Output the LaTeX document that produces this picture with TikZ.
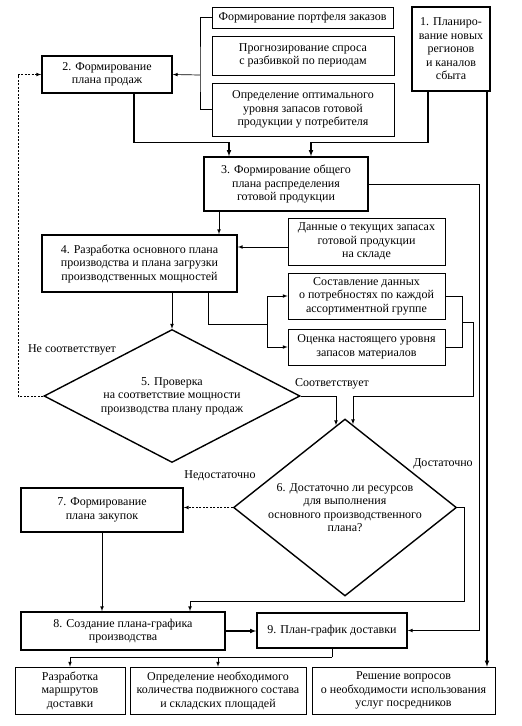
\documentclass[tikz,border=0pt]{standalone}
\usepackage{fontspec}
\setmainfont{Liberation Serif}
\usetikzlibrary{shapes.geometric}
\usetikzlibrary{arrows.meta}
\tikzset{
    cellthin/.style = {rectangle, draw=black, line width=0.7pt, align=center, inner sep=1pt, fill=white},
    cellbold/.style = {rectangle, draw=black, line width=1.6pt, align=center, inner sep=1pt, fill=white},
    check/.style = {diamond, draw=black, line width=1.4pt, align=center, inner sep=0pt},
    edgel/.style = {line width=0.7pt},
    edgen/.style = {-latex, line width=0.7pt},
    edgeb/.style = {-latex, line width=1.1pt},
    edged/.style = {-latex, line width=0.7pt, dash pattern=on 2pt off 1.5pt}, % back
}

\begin{document}
\begin{tikzpicture}[x=1pt,y=-1pt,font=\fontsize{12}{13.5}\selectfont]
\useasboundingbox (0,0) rectangle (522,726);
%
\node[cellthin, minimum width=181, minimum height=21] at (302.5,17.5) (port) {Формирование портфеля заказов};
\node[cellthin, minimum width=182, minimum height=39] at (303,55.5) (prog) {Прогнозирование спроса\\с разбивкой по периодам};
\node[cellthin, minimum width=182, minimum height=53] at (303,109.5) (opt) {Определение оптимального\\уровня запасов готовой\\продукции у потребителя};
\node[cellbold, minimum width=78, minimum height=84] at (451,49) (plan1) {1. Планиро-\\вание новых\\регионов\\и каналов\\сбыта};
\node[cellbold, minimum width=130, minimum height=37] at (107,74.5) (plan2) {2. Формирование\\плана продаж};
\node[cellbold, minimum width=164, minimum height=54] at (286,184) (plan3) {3. Формирование общего\\плана распределения\\готовой продукции};
\node[cellbold, minimum width=195, minimum height=57] at (139.5,263.5) (plan4) {4. Разработка основного плана\\производства и плана загрузки\\производственных мощностей};
\node[cellthin, minimum width=157, minimum height=47] at (366.5,241.5) (stock) {Данные о текущих запасах\\готовой продукции\\на складе};
\node[cellthin, minimum width=157, minimum height=46] at (366.5,296) (need) {Составление данных\\о потребностях по каждой\\ассортиментной группе};
\node[cellthin, minimum width=157, minimum height=36] at (366.5,347) (mat) {Оценка настоящего уровня\\запасов материалов};
\node[check, minimum width=256, minimum height=133, aspect=1.9] at (172,396) (chk5) {5. Проверка\\на соответствие мощности\\производства плану продаж};
\node[check, minimum width=223, minimum height=177, aspect=1.26] at (345,507.5) (chk6) {6. Достаточно ли ресурсов\\для выполнения\\основного производственного\\плана?};
\node[cellbold, minimum width=162, minimum height=44] at (102,510) (plan7) {7. Формирование\\плана закупок};
\node[cellbold, minimum width=204, minimum height=38] at (123,631) (plan8) {8. Создание плана-графика\\производства};
\node[cellbold, minimum width=150, minimum height=35] at (332,630.5) (plan9) {9. План-график доставки};
\node[cellthin, minimum width=110, minimum height=47] at (70,690.5) (route) {Разработка\\маршрутов\\доставки};
\node[cellthin, minimum width=176, minimum height=47] at (218,690.5) (fleet) {Определение необходимого\\количества подвижного состава\\и складских площадей};
\node[cellthin, minimum width=183, minimum height=47] at (403.5,690.5) (agent) {Решение вопросов\\о необходимости использования\\услуг посредников};
%
\node at (72,350) (lno5) {Не соответствует};
\node at (332,384) (lyes5) {Соответствует};
\node at (220,476) (lno6) {Недостаточно};
\node at (443,464) (lyes6) {Достаточно};
%
\coordinate (brk2) at (200,75);
\coordinate (back5) at (18,396);
\coordinate (p1r) at ([xshift=36]plan1.south);
\coordinate (p3s) at ([xshift=-67]plan3.south);
\coordinate (stk) at ([yshift=-5.5]stock.west);
\coordinate (brk4) at (267,324);
\coordinate (brk6) at (462,322);
\coordinate (brk9) at (332,657);
%
\draw[edgel] (port.west) -| (brk2) |- (opt.west);
\draw[edgen] (brk2) -- (plan2.east);
\draw[edged] (chk5.west) -- (back5) |- (plan2.west);
\draw[edgeb] ([xshift=27]plan2.south) |- ++(95,49) -- ([xshift=-57]plan3.north);
\draw[edgeb] ([xshift=-23]plan1.south) |- ++(-117,51) -- ([xshift=25]plan3.north);
\draw[edgeb] (p1r) -- (p1r |- agent.north);
\draw[edgen] (plan3.east) -- ++(111,0) |- (plan9.east);
\draw[edgen] (p3s) -- (p3s |- plan4.north);
\draw[edgen] (stk) -- (stk -| plan4.east);
\draw[edgen] (chk5.north |- plan4.south) -- (chk5.north);
\draw[edgel] ([xshift=68.5]plan4.south) |- (brk4);
\draw[edgen] (brk4) |- (need.west);
\draw[edgen] (brk4) |- (mat.west);
\draw[edgel] (need.east) -| (brk6);
\draw[edgel] (mat.east) -| (brk6);
\draw[edgen] (brk6) -- ++(11,0) |- ++(-120,74) -- ([xshift=8,yshift=-6]chk6.north);
\draw[edgen] (chk5.east) -| ([xshift=-9,yshift=-7]chk6.north);
\draw[edged] (chk6.west) -- (chk6.west -| plan7.east);
\draw[edgen] (plan7.south) -- (plan7.south |- plan8.north);
\draw[edgen] (chk6.east) -- ++(7,0) |- ([xshift=67,yshift=10]plan8.north) -- ([xshift=67]plan8.north);
\draw[edgeb] (plan8.east) -- (plan8.east -| plan9.west);
\draw[edgel] (plan9.south) -- (brk9);
\draw[edgen] (brk9) -| (route.north);
\draw[edgen] (brk9) -| (fleet.north);
\end{tikzpicture}
\end{document}
